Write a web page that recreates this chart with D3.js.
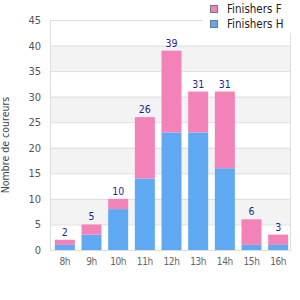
<!DOCTYPE html>
<html><head><meta charset="utf-8">
<script src="https://cdn.jsdelivr.net/npm/d3@7"></script>
<style>body{margin:0;background:#fff;} svg{display:block;font-family:"DejaVu Sans Condensed","DejaVu Sans",sans-serif;font-stretch:condensed;}</style>
</head><body>
<svg id="c" width="300" height="300"></svg>
<script>
const categories = ["8h","9h","10h","11h","12h","13h","14h","15h","16h"];
const finishersH = [1,3,8,14,23,23,16,1,1];
const finishersF = [1,2,2,12,16,8,15,5,2];
const yTicks = [0,5,10,15,20,25,30,35,40,45];
const seriesNames = ["Finishers F","Finishers H"];
const colors = {"Finishers F":"#f282b8","Finishers H":"#5fa9f2"};

const FONT = "'DejaVu Sans Condensed','DejaVu Sans',sans-serif";
const svg = d3.select("#c");
const L=50,R=290,T=20,B=250;
const x = d3.scaleBand().domain(categories).range([L+1.5,R+1.5]).paddingInner(0.25).paddingOuter(0.125);
const y = d3.scaleLinear().domain([0,45]).range([B,T]);

// alternating bands
for(let i=0;i<yTicks.length-1;i++){
  if(i%2===1){
    svg.append("rect").attr("x",L).attr("width",R-L)
      .attr("y",y(yTicks[i+1])).attr("height",y(yTicks[i])-y(yTicks[i+1])).attr("fill","#f3f3f3");
  }
}
// gridlines
svg.append("g").selectAll("line").data(yTicks).join("line")
  .attr("x1",L).attr("x2",R).attr("y1",d=>y(d)+0.5).attr("y2",d=>y(d)+0.5)
  .attr("stroke","#dddddd").attr("stroke-width",1);
// border
svg.append("line").attr("x1",L+0.5).attr("x2",L+0.5).attr("y1",T).attr("y2",B+1).attr("stroke","#dddddd");
svg.append("line").attr("x1",R+0.5).attr("x2",R+0.5).attr("y1",T).attr("y2",B+1).attr("stroke","#dddddd");

// y axis
const yAxis = d3.axisLeft(y).tickValues(yTicks).tickSize(0).tickPadding(9);
const gy = svg.append("g").attr("transform",`translate(${L},0)`).call(yAxis);
gy.select(".domain").remove();
gy.selectAll("text").attr("fill","#555").style("font-size","11px").style("font-family",FONT);

// x axis
const xAxis = d3.axisBottom(x).tickSize(0).tickPadding(8);
const gx = svg.append("g").attr("transform",`translate(0,${B})`).call(xAxis);
gx.select(".domain").remove();
gx.selectAll("text").attr("fill","#666").style("font-size","10px").style("letter-spacing","-0.4px").style("font-family",FONT);

// stacked bars
const data = categories.map((c,i)=>({cat:c,"Finishers H":finishersH[i],"Finishers F":finishersF[i]}));
const stack = d3.stack().keys(["Finishers H","Finishers F"])(data);
svg.append("g").selectAll("g").data(stack).join("g").attr("fill",d=>colors[d.key])
  .selectAll("rect").data(d=>d).join("rect")
  .attr("x",d=>x(d.data.cat)).attr("width",x.bandwidth())
  .attr("y",d=>y(d[1])).attr("height",d=>y(d[0])-y(d[1]));

// totals
svg.append("g").selectAll("text").data(data).join("text")
  .attr("x",d=>x(d.cat)+x.bandwidth()/2)
  .attr("y",d=>y(d["Finishers H"]+d["Finishers F"])-4)
  .attr("text-anchor","middle").attr("fill","#1f1f99").style("font-size","10.5px")
  .text(d=>d["Finishers H"]+d["Finishers F"]);

// y title
svg.append("text").attr("transform","translate(9,145) rotate(-90)")
  .attr("text-anchor","middle").attr("fill","#444").style("font-size","10.5px")
  .text("Nombre de coureurs");

// legend
const lg = svg.append("g");
lg.append("rect").attr("x",203).attr("y",0).attr("width",97).attr("height",33).attr("fill","#fff");
seriesNames.forEach((s,i)=>{
  lg.append("rect").attr("x",210.5).attr("y",5.5+i*15).attr("width",7).attr("height",7)
    .attr("fill",colors[s]).attr("stroke","#777");
  lg.append("text").attr("x",227).attr("y",13+i*15).attr("fill","#222").style("font-size","11.5px").text(s);
});
</script>
</body></html>
